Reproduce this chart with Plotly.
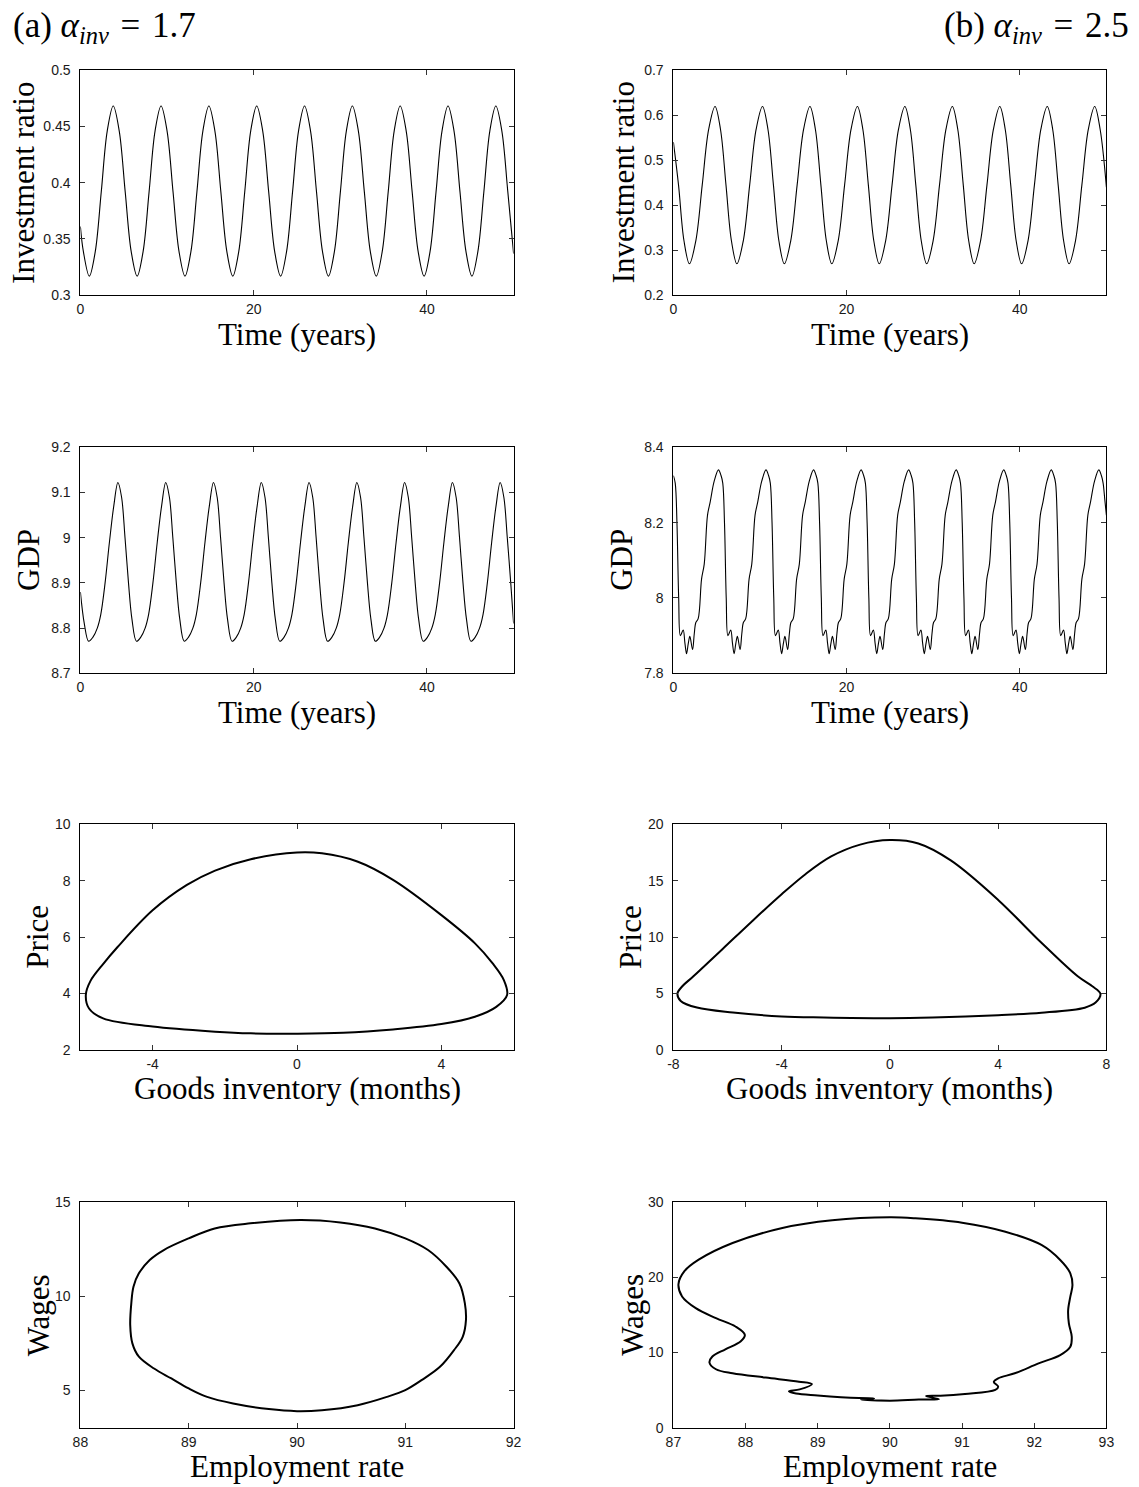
import plotly.graph_objects as go

# ---------------- data ----------------
# (a) alpha_inv = 1.7 : investment ratio vs time
inv_a_t = [0, 0.34,
           1.03, 1.72, 2.41, 3.10, 3.79, 4.48, 5.17, 5.86,
           6.55, 7.24, 7.93, 8.62, 9.31, 10.00, 10.69, 11.38,
           12.07, 12.76, 13.45, 14.14, 14.83, 15.52, 16.21, 16.90,
           17.59, 18.28, 18.97, 19.66, 20.35, 21.04, 21.73, 22.42,
           23.11, 23.80, 24.49, 25.18, 25.87, 26.56, 27.25, 27.94,
           28.63, 29.32, 30.01, 30.70, 31.39, 32.08, 32.77, 33.46,
           34.15, 34.84, 35.53, 36.22, 36.91, 37.60, 38.29, 38.98,
           39.67, 40.36, 41.05, 41.74, 42.43, 43.12, 43.81, 44.50,
           45.19, 45.88, 46.57, 47.26, 47.95, 48.64, 49.33, 50.0]
inv_a_v = [0.361, 0.339,
           0.317, 0.339, 0.392, 0.446, 0.468, 0.446, 0.392, 0.339,
           0.317, 0.339, 0.392, 0.446, 0.468, 0.446, 0.392, 0.339,
           0.317, 0.339, 0.392, 0.446, 0.468, 0.446, 0.392, 0.339,
           0.317, 0.339, 0.392, 0.446, 0.468, 0.446, 0.392, 0.339,
           0.317, 0.339, 0.392, 0.446, 0.468, 0.446, 0.392, 0.339,
           0.317, 0.339, 0.392, 0.446, 0.468, 0.446, 0.392, 0.339,
           0.317, 0.339, 0.392, 0.446, 0.468, 0.446, 0.392, 0.339,
           0.317, 0.339, 0.392, 0.446, 0.468, 0.446, 0.392, 0.339,
           0.317, 0.339, 0.392, 0.446, 0.468, 0.446, 0.392, 0.337]

# (b) alpha_inv = 2.5 : investment ratio vs time
inv_b_t = [0, 0.59, 1.22,
           1.85, 2.59, 3.33, 4.07, 4.81, 5.44, 6.07, 6.70,
           7.33, 8.07, 8.81, 9.55, 10.29, 10.92, 11.55, 12.18,
           12.81, 13.55, 14.29, 15.03, 15.77, 16.40, 17.03, 17.66,
           18.29, 19.03, 19.77, 20.51, 21.25, 21.88, 22.51, 23.14,
           23.77, 24.51, 25.25, 25.99, 26.73, 27.36, 27.99, 28.62,
           29.25, 29.99, 30.73, 31.47, 32.21, 32.84, 33.47, 34.10,
           34.73, 35.47, 36.21, 36.95, 37.69, 38.32, 38.95, 39.58,
           40.21, 40.95, 41.69, 42.43, 43.17, 43.80, 44.43, 45.06,
           45.69, 46.43, 47.17, 47.91, 48.65, 49.28, 50.0]
inv_b_v = [0.54, 0.445, 0.321,
           0.270, 0.321, 0.445, 0.568, 0.619, 0.568, 0.445, 0.321,
           0.270, 0.321, 0.445, 0.568, 0.619, 0.568, 0.445, 0.321,
           0.270, 0.321, 0.445, 0.568, 0.619, 0.568, 0.445, 0.321,
           0.270, 0.321, 0.445, 0.568, 0.619, 0.568, 0.445, 0.321,
           0.270, 0.321, 0.445, 0.568, 0.619, 0.568, 0.445, 0.321,
           0.270, 0.321, 0.445, 0.568, 0.619, 0.568, 0.445, 0.321,
           0.270, 0.321, 0.445, 0.568, 0.619, 0.568, 0.445, 0.321,
           0.270, 0.321, 0.445, 0.568, 0.619, 0.568, 0.445, 0.321,
           0.270, 0.321, 0.445, 0.568, 0.619, 0.568, 0.440]

# (a) GDP vs time
gdp_a_t = [0, 0.45,
           0.95, 1.45, 1.95, 2.35, 2.85, 3.35, 3.85, 4.33, 4.75, 5.15, 5.55, 5.95,
           6.47, 6.97, 7.47, 7.87, 8.37, 8.87, 9.37, 9.85, 10.27, 10.67, 11.07, 11.47,
           11.98, 12.48, 12.98, 13.38, 13.88, 14.38, 14.88, 15.36, 15.78, 16.18, 16.58, 16.98,
           17.50, 18.00, 18.50, 18.90, 19.40, 19.90, 20.40, 20.88, 21.30, 21.70, 22.10, 22.50,
           23.01, 23.51, 24.01, 24.41, 24.91, 25.41, 25.91, 26.39, 26.81, 27.21, 27.61, 28.01,
           28.53, 29.03, 29.53, 29.93, 30.43, 30.93, 31.43, 31.91, 32.33, 32.73, 33.13, 33.53,
           34.04, 34.54, 35.04, 35.44, 35.94, 36.44, 36.94, 37.42, 37.84, 38.24, 38.64, 39.04,
           39.56, 40.06, 40.56, 40.96, 41.46, 41.96, 42.46, 42.94, 43.36, 43.76, 44.16, 44.56,
           45.07, 45.57, 46.07, 46.47, 46.97, 47.47, 47.97, 48.45, 48.87, 49.27, 49.67, 50.0]
gdp_a_v = [8.88, 8.81,
           8.771, 8.780, 8.800, 8.830, 8.900, 8.990, 9.070, 9.122, 9.090, 9.000, 8.900, 8.820,
           8.771, 8.780, 8.800, 8.830, 8.900, 8.990, 9.070, 9.122, 9.090, 9.000, 8.900, 8.820,
           8.771, 8.780, 8.800, 8.830, 8.900, 8.990, 9.070, 9.122, 9.090, 9.000, 8.900, 8.820,
           8.771, 8.780, 8.800, 8.830, 8.900, 8.990, 9.070, 9.122, 9.090, 9.000, 8.900, 8.820,
           8.771, 8.780, 8.800, 8.830, 8.900, 8.990, 9.070, 9.122, 9.090, 9.000, 8.900, 8.820,
           8.771, 8.780, 8.800, 8.830, 8.900, 8.990, 9.070, 9.122, 9.090, 9.000, 8.900, 8.820,
           8.771, 8.780, 8.800, 8.830, 8.900, 8.990, 9.070, 9.122, 9.090, 9.000, 8.900, 8.820,
           8.771, 8.780, 8.800, 8.830, 8.900, 8.990, 9.070, 9.122, 9.090, 9.000, 8.900, 8.820,
           8.771, 8.780, 8.800, 8.830, 8.900, 8.990, 9.070, 9.122, 9.090, 9.000, 8.900, 8.810]

# (b) GDP vs time
gdp_b_t = [0, 0.21, 0.41, 0.61, 0.81, 1.13, 1.33, 1.52, 1.71, 1.90, 2.21, 2.41, 2.59, 2.86, 3.25, 3.56, 3.94, 4.25, 4.71,
           5.20, 5.50, 5.70, 5.90, 6.10, 6.30, 6.62, 6.82, 7.01, 7.20, 7.39, 7.70, 7.90, 8.08, 8.35, 8.74, 9.05, 9.43, 9.74, 10.20,
           10.69, 10.99, 11.19, 11.39, 11.59, 11.79, 12.11, 12.31, 12.50, 12.69, 12.88, 13.19, 13.39, 13.57, 13.84, 14.23, 14.54, 14.92, 15.23, 15.69,
           16.18, 16.48, 16.68, 16.88, 17.08, 17.28, 17.60, 17.80, 17.99, 18.18, 18.37, 18.68, 18.88, 19.06, 19.33, 19.72, 20.03, 20.41, 20.72, 21.18,
           21.67, 21.97, 22.17, 22.37, 22.57, 22.77, 23.09, 23.29, 23.48, 23.67, 23.86, 24.17, 24.37, 24.55, 24.82, 25.21, 25.52, 25.90, 26.21, 26.67,
           27.16, 27.46, 27.66, 27.86, 28.06, 28.26, 28.58, 28.78, 28.97, 29.16, 29.35, 29.66, 29.86, 30.04, 30.31, 30.70, 31.01, 31.39, 31.70, 32.16,
           32.65, 32.95, 33.15, 33.35, 33.55, 33.75, 34.07, 34.27, 34.46, 34.65, 34.84, 35.15, 35.35, 35.53, 35.80, 36.19, 36.50, 36.88, 37.19, 37.65,
           38.14, 38.44, 38.64, 38.84, 39.04, 39.24, 39.56, 39.76, 39.95, 40.14, 40.33, 40.64, 40.84, 41.02, 41.29, 41.68, 41.99, 42.37, 42.68, 43.14,
           43.63, 43.93, 44.13, 44.33, 44.53, 44.73, 45.05, 45.25, 45.44, 45.63, 45.82, 46.13, 46.33, 46.51, 46.78, 47.17, 47.48, 47.86, 48.17, 48.63,
           49.12, 49.42, 49.62, 49.82, 50.0]
gdp_b_v = [8.325, 8.305, 8.200, 8.000, 7.900, 7.915, 7.880, 7.852, 7.878, 7.898, 7.863, 7.905, 7.935, 7.945, 8.050, 8.090, 8.220, 8.255, 8.310,
           8.340, 8.325, 8.305, 8.200, 8.000, 7.900, 7.915, 7.880, 7.852, 7.878, 7.898, 7.863, 7.905, 7.935, 7.945, 8.050, 8.090, 8.220, 8.255, 8.310,
           8.340, 8.325, 8.305, 8.200, 8.000, 7.900, 7.915, 7.880, 7.852, 7.878, 7.898, 7.863, 7.905, 7.935, 7.945, 8.050, 8.090, 8.220, 8.255, 8.310,
           8.340, 8.325, 8.305, 8.200, 8.000, 7.900, 7.915, 7.880, 7.852, 7.878, 7.898, 7.863, 7.905, 7.935, 7.945, 8.050, 8.090, 8.220, 8.255, 8.310,
           8.340, 8.325, 8.305, 8.200, 8.000, 7.900, 7.915, 7.880, 7.852, 7.878, 7.898, 7.863, 7.905, 7.935, 7.945, 8.050, 8.090, 8.220, 8.255, 8.310,
           8.340, 8.325, 8.305, 8.200, 8.000, 7.900, 7.915, 7.880, 7.852, 7.878, 7.898, 7.863, 7.905, 7.935, 7.945, 8.050, 8.090, 8.220, 8.255, 8.310,
           8.340, 8.325, 8.305, 8.200, 8.000, 7.900, 7.915, 7.880, 7.852, 7.878, 7.898, 7.863, 7.905, 7.935, 7.945, 8.050, 8.090, 8.220, 8.255, 8.310,
           8.340, 8.325, 8.305, 8.200, 8.000, 7.900, 7.915, 7.880, 7.852, 7.878, 7.898, 7.863, 7.905, 7.935, 7.945, 8.050, 8.090, 8.220, 8.255, 8.310,
           8.340, 8.325, 8.305, 8.200, 8.000, 7.900, 7.915, 7.880, 7.852, 7.878, 7.898, 7.863, 7.905, 7.935, 7.945, 8.050, 8.090, 8.220, 8.255, 8.310,
           8.340, 8.325, 8.305, 8.260, 8.220]

# (a) price vs goods inventory (closed loop)
inventory_a = [0.0, 0.69, 1.67, 2.66, 4.0, 4.93, 5.42, 5.73, 5.82, 5.52, 4.93, 4.0, 2.66, 1.28, 0.0,
               -1.28, -2.27, -4.0, -5.37, -5.76, -5.85, -5.72, -5.40, -4.97, -4.0, -3.05, -2.27, -1.28, 0.0]
price_a = [9.0, 8.97, 8.68, 8.03, 6.78, 5.78, 5.07, 4.48, 3.95, 3.53, 3.18, 2.92, 2.73, 2.61, 2.58,
           2.59, 2.65, 2.83, 3.12, 3.47, 3.95, 4.45, 5.0, 5.65, 6.95, 7.85, 8.36, 8.76, 9.0]

# (b) price vs goods inventory (closed loop)
inventory_b = [0.0, 1.05, 2.25, 4.0, 5.6, 6.94, 7.48, 7.78, 7.6, 7.2, 5.6, 4.0, 1.58, 0.0,
               -2.44, -4.0, -5.8, -7.13, -7.73, -7.85, -7.67, -7.26, -6.19, -5.12, -4.0, -3.11, -2.17, -1.10, 0.0]
price_b = [18.6, 18.3, 16.8, 13.3, 9.5, 6.53, 5.65, 4.97, 4.2, 3.75, 3.3, 3.09, 2.88, 2.82,
           2.88, 2.97, 3.32, 3.76, 4.35, 5.0, 5.65, 6.53, 8.93, 11.35, 13.8, 15.6, 17.15, 18.2, 18.6]

# (a) wages vs employment rate (closed loop)
employment_a = [90.03, 89.57, 89.24, 89.0, 88.77, 88.64, 88.54, 88.49, 88.47, 88.46, 88.48, 88.54, 88.68, 88.84,
                89.0, 89.17, 89.41, 89.74, 90.0, 90.23, 90.56, 90.83, 91.0, 91.15, 91.32, 91.45, 91.53, 91.56,
                91.55, 91.5, 91.38, 91.21, 91.0, 90.72, 90.4, 90.03]
wages_a = [14.06, 13.88, 13.61, 13.08, 12.46, 11.93, 11.22, 10.51, 9.62, 8.46, 7.49, 6.78, 6.15, 5.62,
           5.09, 4.64, 4.29, 3.99, 3.88, 3.93, 4.2, 4.64, 5.0, 5.53, 6.24, 7.13, 7.84, 8.73,
           9.62, 10.68, 11.57, 12.46, 13.08, 13.61, 13.93, 14.06]

# (b) wages vs employment rate (closed loop)
employment_b = [90.0, 89.2, 88.51, 87.82, 87.35, 87.15, 87.07, 87.12, 87.31, 87.59, 87.86, 87.99, 87.93, 87.72,
                87.54, 87.50, 87.59, 87.82, 88.28, 88.74, 88.92, 88.75, 88.6, 88.7, 89.0, 89.57, 89.78, 89.6,
                90.0, 90.4, 90.68, 90.5, 90.7, 91.04, 91.46, 91.5, 91.44, 91.5, 91.73, 92.06, 92.36, 92.5,
                92.52, 92.48, 92.47, 92.5, 92.53, 92.5, 92.36, 92.1, 91.6, 91.0, 90.35, 90.0]
wages_b = [28.0, 27.6, 26.58, 24.58, 22.36, 20.8, 19.1, 17.47, 15.91, 14.58, 13.47, 12.36, 11.47, 10.44,
           9.47, 8.67, 7.78, 7.24, 6.67, 6.13, 5.8, 5.1, 4.85, 4.55, 4.3, 3.95, 3.9, 3.75,
           3.6, 3.75, 3.8, 4.2, 4.25, 4.49, 5.02, 5.47, 6.1, 6.58, 7.24, 8.56, 9.67, 10.78,
           12.1, 13.89, 15.66, 17.44, 19.0, 20.55, 22.32, 24.32, 26.09, 27.29, 27.87, 28.0]

# ---------------- layout (pixel positions in the 1139x1487 page) ----------------
W, H = 1139, 1487
cols_px = {"a": (80.4, 513.6), "b": (673.4, 1106.4)}
rows_px = [(70.0, 295.3), (447.3, 673.3), (824.3, 1050.0), (1202.3, 1427.7)]

TICK_FONT = dict(family="Liberation Sans, Arial, sans-serif", size=14, color="#1a1a1a")
TITLE_FONT = dict(family="Liberation Serif, Times New Roman, serif", size=31, color="black")
HEAD_FONT = dict(family="Liberation Serif, Times New Roman, serif", size=35, color="black")

panels = [
    # col, row, x, y, xrange, yrange, xticks, xticktext, yticks, yticktext, xtitle, ytitle, ytitle_x, width
    ("a", 0, inv_a_t, inv_a_v, [0, 50], [0.3, 0.5], [0, 20, 40], ["0", "20", "40"],
     [0.3, 0.35, 0.4, 0.45, 0.5], ["0.3", "0.35", "0.4", "0.45", "0.5"], "Time (years)", "Investment ratio", 23.2, 1.1),
    ("b", 0, inv_b_t, inv_b_v, [0, 50], [0.2, 0.7], [0, 20, 40], ["0", "20", "40"],
     [0.2, 0.3, 0.4, 0.5, 0.6, 0.7], ["0.2", "0.3", "0.4", "0.5", "0.6", "0.7"], "Time (years)", "Investment ratio", 623.7, 1.1),
    ("a", 1, gdp_a_t, gdp_a_v, [0, 50], [8.7, 9.2], [0, 20, 40], ["0", "20", "40"],
     [8.7, 8.8, 8.9, 9.0, 9.1, 9.2], ["8.7", "8.8", "8.9", "9", "9.1", "9.2"], "Time (years)", "GDP", 28.6, 1.1),
    ("b", 1, gdp_b_t, gdp_b_v, [0, 50], [7.8, 8.4], [0, 20, 40], ["0", "20", "40"],
     [7.8, 8.0, 8.2, 8.4], ["7.8", "8", "8.2", "8.4"], "Time (years)", "GDP", 621.5, 1.1),
    ("a", 2, inventory_a, price_a, [-6, 6], [2, 10], [-4, 0, 4], ["-4", "0", "4"],
     [2, 4, 6, 8, 10], ["2", "4", "6", "8", "10"], "Goods inventory (months)", "Price", 37.5, 2.0),
    ("b", 2, inventory_b, price_b, [-8, 8], [0, 20], [-8, -4, 0, 4, 8], ["-8", "-4", "0", "4", "8"],
     [0, 5, 10, 15, 20], ["0", "5", "10", "15", "20"], "Goods inventory (months)", "Price", 629.9, 2.0),
    ("a", 3, employment_a, wages_a, [88, 92], [3, 15], [88, 89, 90, 91, 92], ["88", "89", "90", "91", "92"],
     [5, 10, 15], ["5", "10", "15"], "Employment rate", "Wages", 38.2, 2.0),
    ("b", 3, employment_b, wages_b, [87, 93], [0, 30], [87, 88, 89, 90, 91, 92, 93], ["87", "88", "89", "90", "91", "92", "93"],
     [0, 10, 20, 30], ["0", "10", "20", "30"], "Employment rate", "Wages", 631.7, 2.0),
]

fig = go.Figure()
layout = dict(width=W, height=H, margin=dict(l=0, r=0, t=0, b=0, autoexpand=False),
              paper_bgcolor="white", plot_bgcolor="white", showlegend=False)
annotations = []

for i, (col, row, xs, ys, xr, yr, xt, xtt, yt, ytt, xtitle, ytitle, ytx, lw) in enumerate(panels, start=1):
    x0, x1 = cols_px[col]
    y0, y1 = rows_px[row]
    xa = "xaxis" if i == 1 else f"xaxis{i}"
    ya = "yaxis" if i == 1 else f"yaxis{i}"
    xref = "x" if i == 1 else f"x{i}"
    yref = "y" if i == 1 else f"y{i}"
    common = dict(showline=True, linecolor="black", linewidth=1, mirror="ticks",
                  ticks="inside", ticklen=5, tickwidth=1, tickcolor="#333333",
                  showgrid=False, zeroline=False, tickfont=TICK_FONT, fixedrange=True)
    layout[xa] = dict(domain=[x0 / W, x1 / W], range=xr, anchor=yref,
                      tickmode="array", tickvals=xt, ticktext=xtt, ticklabelstandoff=1, **common)
    layout[ya] = dict(domain=[1 - y1 / H, 1 - y0 / H], range=yr, anchor=xref,
                      tickmode="array", tickvals=yt, ticktext=ytt, ticklabelstandoff=6, **common)
    fig.add_trace(go.Scatter(x=xs, y=ys, mode="lines", xaxis=xref, yaxis=yref,
                             line=dict(color="black", width=lw, shape="spline", smoothing=1.0),
                             hoverinfo="skip"))
    annotations.append(dict(text=xtitle, xref="paper", yref="paper",
                            x=(x0 + x1) / 2 / W, y=1 - (y1 + 38.7) / H,
                            xanchor="center", yanchor="middle", showarrow=False, font=TITLE_FONT))
    annotations.append(dict(text=ytitle, xref="paper", yref="paper", textangle=-90,
                            x=ytx / W, y=1 - (y0 + y1) / 2 / H,
                            xanchor="center", yanchor="middle", showarrow=False, font=TITLE_FONT))

annotations.append(dict(text="(a) <i>α</i><sub><i>inv</i></sub>\u2004=\u20041.7", xref="paper", yref="paper",
                        x=10.7 / W, y=1 - 27 / H, xanchor="left", yanchor="middle",
                        showarrow=False, font=HEAD_FONT))
annotations.append(dict(text="(b) <i>α</i><sub><i>inv</i></sub>\u2004=\u20042.5", xref="paper", yref="paper",
                        x=1130.6 / W, y=1 - 27 / H, xanchor="right", yanchor="middle",
                        showarrow=False, font=HEAD_FONT))

layout["annotations"] = annotations
fig.update_layout(**layout)
# page body margin removed so that figure pixels coincide with page pixels; no mode bar
fig.write_html("out.html", config={"displayModeBar": False, "staticPlot": True},
               post_script="document.body.style.margin='0px';")
